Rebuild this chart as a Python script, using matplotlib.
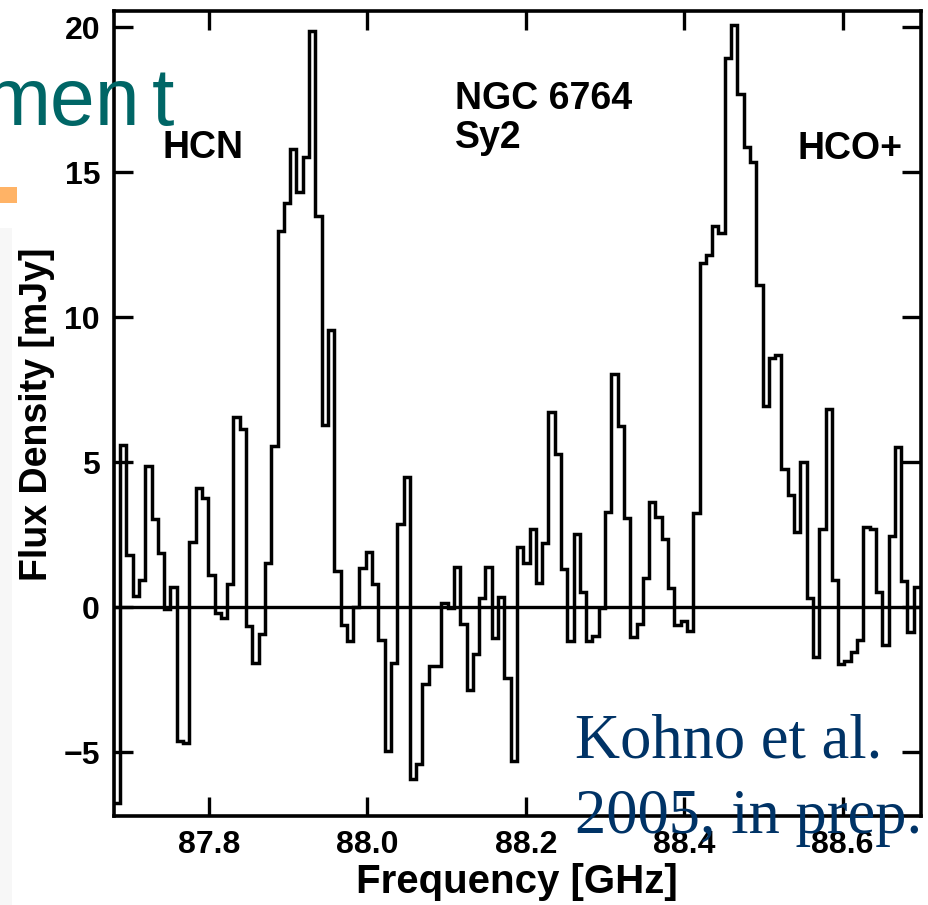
import matplotlib
matplotlib.use("Agg")
import matplotlib.pyplot as plt
import numpy as np
from matplotlib.patches import Rectangle

plt.rcParams["font.family"] = ["Liberation Sans", "DejaVu Sans"]
plt.rcParams["axes.unicode_minus"] = True

# Spectrum of NGC 6764: flux density per channel (mJy)
flux = [
    -6.76, 5.6, 1.8, 0.37, 0.94, 4.87, 3.05, 1.86, -0.07, 0.68,
    -4.63, -4.69, 2.24, 4.1, 3.76, 1.11, -0.2, -0.38, 0.79, 6.57,
    6.14, -0.64, -1.93, -0.92, 1.52, 5.56, 12.98, 13.95, 15.8, 14.33,
    15.54, 19.88, 13.49, 6.29, 9.56, 1.26, -0.61, -1.18, 0.02, 1.34,
    1.92, 0.79, -1.13, -4.95, -1.91, 2.86, 4.48, -5.93, -5.41, -2.66,
    -2.02, -2.02, 0.14, -0.03, 1.4, -0.57, -2.85, -1.62, 0.31, 1.38,
    -1.07, 0.34, -2.43, -5.3, 2.06, 1.52, 2.7, 0.83, 2.23, 6.72,
    5.28, 1.31, -1.15, 2.52, 0.54, -1.15, -0.99, -0.03, 3.3, 8.03,
    6.25, 3.09, -1.03, -0.57, 1.0, 3.62, 3.1, 2.36, 0.66, -0.61,
    -0.49, -0.82, 3.24, 11.86, 12.15, 13.15, 12.92, 18.95, 20.06, 17.69,
    15.86, 15.34, 11.11, 6.94, 8.6, 8.7, 4.77, 3.87, 2.61, 5.0,
    0.31, -1.72, 2.7, 6.84, 0.94, -1.95, -1.85, -1.55, -1.13, 2.78,
    2.7, 0.54, -1.32, 2.44, 5.54, 0.91, -0.87, 0.68,
]

# Channel grid (GHz)
freq_start = 87.6797
chan_width = 0.007955

xticks = [87.8, 88.0, 88.2, 88.4, 88.6]
xtick_labels = ["87.8", "88.0", "88.2", "88.4", "88.6"]
yticks = [-5, 0, 5, 10, 15, 20]
ytick_labels = ["\u22125", "0", "5", "10", "15", "20"]

line_labels = ["HCN", "HCO+"]
line_label_x = [87.7407, 88.5437]
line_label_y = [15.49, 15.46]

W, H = 929, 905
fig = plt.figure(figsize=(W / 100, H / 100), dpi=100)
fig.patch.set_facecolor("white")


def fx(px):
    return px / W


def fy(py):
    return 1 - py / H


# faint slide shading at the left edge
fig.add_artist(Rectangle((0, 0), fx(12), 1 - 228 / H, transform=fig.transFigure,
                         color="#f7f7f7", lw=0, zorder=0))

ax = fig.add_axes([fx(114), fy(816), (920.5 - 114) / W, (816 - 11) / H])

edges = freq_start + chan_width * np.arange(len(flux) + 1)
ax.stairs(flux, edges, baseline=None, color="black", lw=2.5)
ax.axhline(0, color="black", lw=2.4)

ax.set_xlim(87.6800, 88.6985)
ax.set_ylim(-7.2, 20.56)
ax.set_xticks(xticks)
ax.set_xticklabels(xtick_labels)
ax.set_yticks(yticks)
ax.set_yticklabels(ytick_labels)

for s in ax.spines.values():
    s.set_linewidth(2.6)
ax.tick_params(direction="in", length=14, width=2.4, top=True, right=True,
               labelsize=23, pad=10)
for lab in ax.get_xticklabels() + ax.get_yticklabels():
    lab.set_fontweight("bold")

for name, x, y in zip(line_labels, line_label_x, line_label_y):
    ax.text(x, y, name, ha="left", va="baseline", fontsize=27, fontweight="bold")
ax.text(88.1106, 17.18, "NGC 6764", ha="left", va="baseline", fontsize=27,
        fontweight="bold")
ax.text(88.1106, 15.83, "Sy2", ha="left", va="baseline", fontsize=27,
        fontweight="bold")

fig.text(fx(37), fy(414), "Flux Density [mJy]", rotation=90, ha="center",
         va="center", fontsize=27, fontweight="bold")
fig.text(fx(517), fy(882), "Frequency [GHz]", ha="center", va="center",
         fontsize=29, fontweight="bold")

# slide title fragment and bullet
fig.text(fx(140), fy(125), "men", color="#006666", fontsize=58,
         ha="right", va="baseline")
fig.text(fx(152), fy(125), "t", color="#006666", fontsize=58,
         ha="left", va="baseline")
fig.add_artist(Rectangle((0, fy(203)), fx(17), 16 / H, transform=fig.transFigure,
                         color="#FFB366", lw=0))

# citation
fig.text(fx(575), fy(757), "Kohno et al.", family="Liberation Serif", fontsize=45,
         color="#003366", ha="left", va="baseline", zorder=10)
fig.text(fx(575), fy(833), "2005, in prep.", family="Liberation Serif", fontsize=45,
         color="#003366", ha="left", va="baseline", zorder=10)

fig.savefig("out.png", dpi=100)
